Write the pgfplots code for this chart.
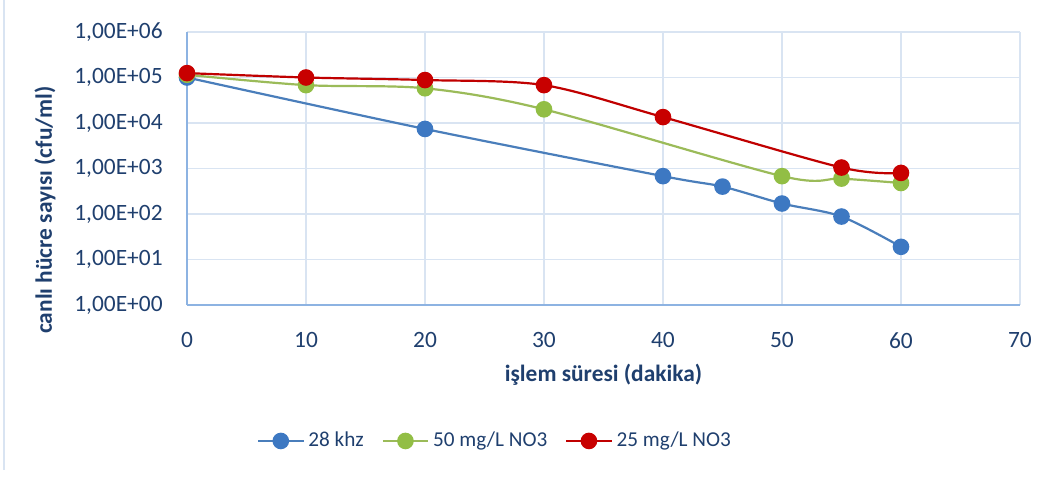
\documentclass[border=0pt]{standalone}
\usepackage{pgfplots}
\pgfplotsset{compat=1.18}
\usepackage{fontspec}
\setmainfont{Carlito}
\definecolor{txt}{HTML}{1F3F6E}
\definecolor{gridc}{HTML}{D9E4F2}
\definecolor{axc}{HTML}{8DB3E2}
\definecolor{bl}{HTML}{4A7EBB}
\definecolor{blf}{HTML}{3D78C2}
\definecolor{gr}{HTML}{9BBB59}
\definecolor{grf}{HTML}{92BE45}
\definecolor{rd}{HTML}{C00000}
\definecolor{rdf}{HTML}{C80000}
\begin{document}
\begin{tikzpicture}
\begin{axis}[
  scale only axis,
  width=416.5pt, height=136.5pt,
  xmin=0, xmax=70, ymin=1, ymax=1e6,
  ymode=log,
  log basis y=10,
  xtick={0,10,...,70},
  ytick={1,10,100,1000,10000,100000,1000000},
  yticklabels={{1,00E+00},{1,00E+01},{1,00E+02},{1,00E+03},{1,00E+04},{1,00E+05},{1,00E+06}},
  minor tick num=0,
  major tick length=0pt,
  yminorticks=false,
  grid=major,
  major grid style={gridc, line width=0.7pt},
  axis lines=left,
  axis line style={axc, line width=0.9pt, -},
  clip=false,
  font=\fontsize{11.7}{14}\selectfont,
  tick label style={txt, font=\fontsize{11.7}{14}\selectfont},
  yticklabel style={anchor=east, inner sep=0pt, xshift=-12pt},
  xticklabel style={anchor=north, inner sep=0pt, yshift=-13.5pt},
  /pgf/number format/assume math mode=true,
  xlabel={\textbf{işlem süresi (dakika)}},
  ylabel={\textbf{canlı hücre sayısı (cfu/ml)}},
  xlabel style={txt, at={(axis description cs:0.5,-0.256)}, anchor=center, inner sep=0pt},
  ylabel style={txt, at={(axis description cs:-0.1705,0.348)}, anchor=center, inner sep=0pt, rotate=0},
  legend style={at={(axis description cs:0.371,-0.498)}, anchor=center, draw=none, fill=none,
    legend columns=3, text=txt, font=\fontsize{10.6}{13}\selectfont,
    /tikz/every even column/.append style={column sep=7pt}},
  legend image code/.code={
    \draw[#1, mark repeat=2, mark phase=2] plot coordinates {(0pt,0pt) (11.25pt,0pt) (22.5pt,0pt)};
  },
]
\addplot[bl, line width=1.1pt, smooth, tension=0.5, mark=*, mark size=3.6pt, mark options={fill=blf, draw=blf}]
  coordinates {(0,1.0e5) (20,7.4e3) (40,6.8e2) (45,4.0e2) (50,1.7e2) (55,8.8e1) (60,1.9e1)};
\addlegendentry{28 khz}
\addplot[gr, line width=1.1pt, smooth, tension=0.5, mark=*, mark size=3.6pt, mark options={fill=grf, draw=grf}]
  coordinates {(0,1.15e5) (10,6.8e4) (20,5.8e4) (30,2.0e4) (50,6.8e2) (55,6.0e2) (60,4.8e2)};
\addlegendentry{50 mg/L NO3}
\addplot[rd, line width=1.1pt, smooth, tension=0.5, mark=*, mark size=3.6pt, mark options={fill=rdf, draw=rdf}]
  coordinates {(0,1.25e5) (10,1.0e5) (20,8.8e4) (30,6.8e4) (40,1.35e4) (55,1.05e3) (60,8.0e2)};
\addlegendentry{25 mg/L NO3}
\coordinate (O) at (rel axis cs:0,0);
\end{axis}
\draw[gridc, line width=1pt] ([shift={(-91.5pt,-82.5pt)}]O) -- ([shift={(-91.5pt,152.5pt)}]O);
\pgfresetboundingbox
\path[use as bounding box] ([shift={(-93.5pt,-86.5pt)}]O) rectangle ([shift={(436pt,152.5pt)}]O);
\end{tikzpicture}
\end{document}
